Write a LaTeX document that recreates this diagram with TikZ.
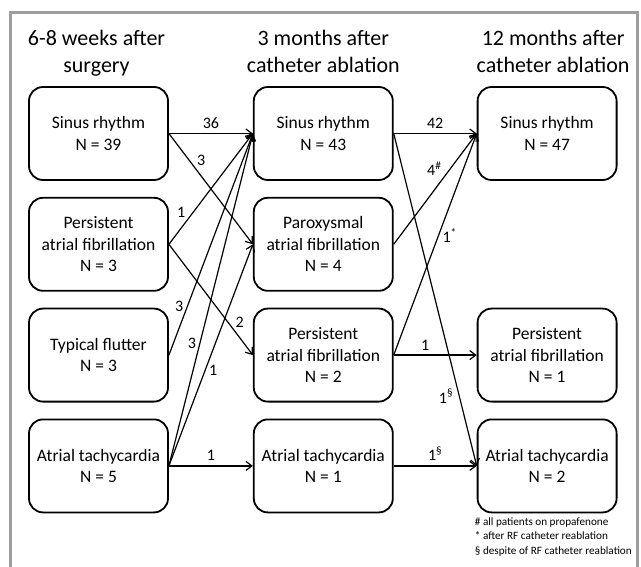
\documentclass[tikz,border=0pt]{standalone}
\usepackage{fontspec}
\setmainfont{Carlito}
\usepackage{xcolor}
\usetikzlibrary{positioning,arrows.meta}
\definecolor{framegray}{RGB}{158,158,158}
\tikzset{
  stbox/.style={rounded corners=14pt, draw=black, line width=1.8pt, fill=white, align=center, minimum width=139pt, minimum height=93pt, inner sep=2pt, font=\fontsize{17.5}{21.5}\selectfont},
  phase/.style={align=center, text depth=5pt, font=\fontsize{22}{27}\selectfont},
  arr/.style={-{Straight Barb[length=6pt,width=9pt]}, line width=1.2pt},
  lbl/.style={font=\fontsize{16}{18}\selectfont, inner sep=1.5pt},
}
\begin{document}
\begin{tikzpicture}[x=1pt,y=-1pt]
    \clip (0,0) rectangle (641,567);
    \draw[framegray, line width=3pt] (10,13) rectangle (637,600);
    % 6-8 weeks after surgery
    \node[stbox] (srA) at (98.5,133.5) {Sinus rhythm\\N = 39};
    \node[stbox, below=16pt of srA] (pafA) {Persistent\\atrial fibrillation\\N = 3};
    \node[stbox, below=16pt of pafA] (flA) {Typical flutter\\N = 3};
    \node[stbox, below=16pt of flA] (atA) {Atrial tachycardia\\N = 5};
    % 3 months after catheter ablation
    \node[stbox, right=84pt of srA] (srB) {Sinus rhythm\\N = 43};
    \node[stbox, right=84pt of pafA] (parB) {Paroxysmal\\atrial fibrillation\\N = 4};
    \node[stbox, right=84pt of flA] (pafB) {Persistent\\atrial fibrillation\\N = 2};
    \node[stbox, right=84pt of atA] (atB) {Atrial tachycardia\\N = 1};
    % 12 months after catheter ablation
    \node[stbox, right=83pt of srB] (srC) {Sinus rhythm\\N = 47};
    \node[stbox, right=83pt of pafB] (pafC) {Persistent\\atrial fibrillation\\N = 1};
    \node[stbox, right=83pt of atB] (atC) {Atrial tachycardia\\N = 2};
    % headings
    \node[phase, above=5pt of srA, xshift=-2pt] (hA) {6-8 weeks after\\surgery};
    \node[phase, above=5pt of srB] (hB) {3 months after\\catheter ablation};
    \node[phase, above=5pt of srC, xshift=6pt] (hC) {12 months after\\catheter ablation};
    % transitions
    \draw[arr] (srA.east) -- node[lbl, above=3pt] {36} (srB.west);
    \draw[arr] (srA.east) -- node[lbl, pos=.31, above right=0pt] {3} (parB.west);
    \draw[arr] (pafA.east) -- node[lbl, pos=.22, above left=0pt] {1} (srB.west);
    \draw[arr] (pafA.east) -- node[lbl, pos=.77, above right=0pt] {2} (pafB.west);
    \draw[arr] (flA.east) -- node[lbl, pos=.22, left=2pt] {3} (srB.west);
    \draw[arr] (atA.east) -- node[lbl, pos=.37, left=2pt] {3} (srB.west);
    \draw[arr] (atA.east) -- node[lbl, pos=.43, right=2pt] {1} (parB.west);
    \draw[arr] (atA.east) -- node[lbl, above=3pt] {1} (atB.west);
    \draw[arr] (srB.east) -- node[lbl, above=3pt] {42} (srC.west);
    \draw[arr] (parB.east) -- node[lbl, pos=.6, above left=0pt] {4\textsuperscript{\#}} (srC.west);
    \draw[arr] (pafB.east) -- node[lbl, pos=.54, right=2pt] {1\textsuperscript{*}} (srC.west);
    \draw[arr] (pafB.east) -- node[lbl, pos=.38, above=2pt] {1} (pafC.west);
    \draw[arr] (srB.east) -- node[lbl, pos=.79, left=4pt] {1\textsuperscript{§}} (atC.west);
    \draw[arr] (atB.east) -- node[lbl, above=3pt] {1\textsuperscript{§}} (atC.west);
    % footnotes
    \node[below=4pt of atC.south west, anchor=north west, xshift=-2pt, align=left, inner sep=0pt,
      font=\fontsize{11.2}{14.5}\selectfont] (notes)
      {\# all patients on propafenone\\* after RF catheter reablation\\§ despite of RF catheter reablation};
  \end{tikzpicture}
\end{document}
